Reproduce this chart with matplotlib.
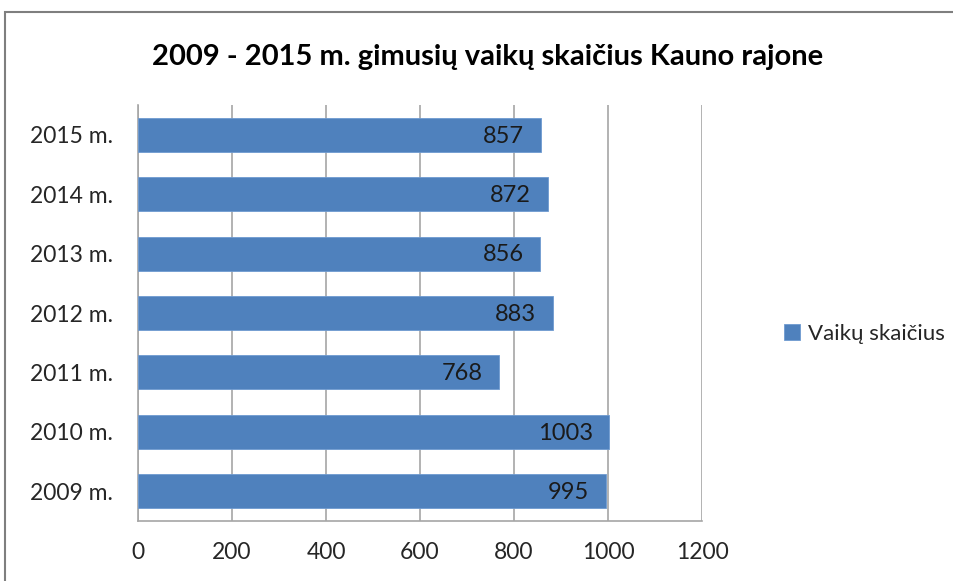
import matplotlib.pyplot as plt
from matplotlib.patches import Rectangle

years = ["2009 m.", "2010 m.", "2011 m.", "2012 m.", "2013 m.", "2014 m.", "2015 m."]
children = [995, 1003, 768, 883, 856, 872, 857]
series_name = "Vaikų skaičius"
x_ticks = [0, 200, 400, 600, 800, 1000, 1200]

plt.rcParams["font.family"] = ["Lato", "DejaVu Sans"]

bar_color = "#4F81BD"
grid_color = "#A6A6A6"
text_color = "#262626"

fig = plt.figure(figsize=(9.54, 5.81), dpi=100)

# outer chart frame (cut off at right and bottom like the reference)
fig.patches.append(Rectangle((5 / 954, -0.05), 1.1, 1 - 12 / 581 + 0.05,
                             transform=fig.transFigure, fill=False,
                             edgecolor="#7F7F7F", linewidth=1.5))

ax = fig.add_axes([138 / 954, 1 - 521 / 581, 564 / 954, 416 / 581])

positions = list(range(len(years)))
bars = ax.barh(positions, children, height=0.57, color=bar_color,
               edgecolor="#6F9AD0", linewidth=0.6, label=series_name, zorder=3)

for b, v in zip(bars, children):
    ax.annotate(str(v), (b.get_width(), b.get_y() + b.get_height() / 2),
                xytext=(-12, -1), textcoords="offset points",
                ha="right", va="center", fontsize=17, color="#1a1a1a", zorder=4)

ax.set_xlim(0, 1200)
ax.set_ylim(-0.5, len(years) - 0.5)
ax.set_xticks(x_ticks)
ax.set_xticklabels([str(t) for t in x_ticks])
ax.set_yticks(positions)
ax.set_yticklabels(years)
ax.tick_params(axis="both", length=0, labelsize=16.5, labelcolor=text_color)
ax.tick_params(axis="x", pad=15)
ax.tick_params(axis="y", pad=18)

ax.grid(axis="x", color=grid_color, linewidth=1.2, zorder=0)
for side in ["top", "right"]:
    ax.spines[side].set_visible(False)
for side in ["left", "bottom"]:
    ax.spines[side].set_color(grid_color)
    ax.spines[side].set_linewidth(1.2)

fig.text(488 / 954, 1 - 57 / 581, "2009 - 2015 m. gimusių vaikų skaičius Kauno rajone",
         ha="center", va="center", fontsize=21, fontweight="bold", color="#000000")

fig.legend(handles=[bars], labels=[series_name], loc="center left",
           bbox_to_anchor=(764 / 954, 1 - 334 / 581), frameon=False,
           fontsize=16, handlelength=0.7, handleheight=0.7, handletextpad=0.4,
           labelcolor=text_color)

fig.savefig("out.png", dpi=100)
